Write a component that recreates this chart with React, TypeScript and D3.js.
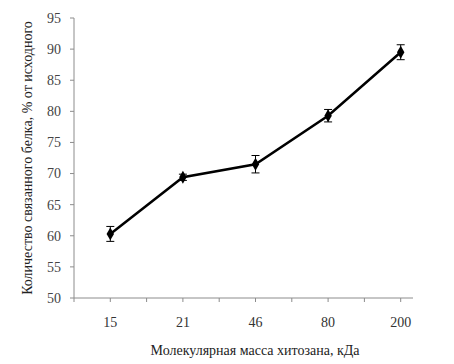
import React from "react";
import * as d3 from "d3";

const categories = ["15", "21", "46", "80", "200"];
const values = [60.3, 69.4, 71.5, 79.3, 89.5];
const errors = [1.2, 0.5, 1.4, 1.0, 1.2];
const yTicks = [50, 55, 60, 65, 70, 75, 80, 85, 90, 95];
const xTitle = "Молекулярная масса хитозана, кДа";
const yTitle = "Количество связанного белка, % от исходного";

export default function App() {
  const W = 454, H = 364;
  const left = 74, right = 437, top = 18, bottom = 298;
  const x = d3.scaleBand<string>().domain(categories).range([left, right]);
  const y = d3.scaleLinear().domain([50, 95]).range([bottom, top]);
  const cx = (c: string) => (x(c) as number) + x.bandwidth() / 2;
  const line = d3.line<number>().x((_, i) => cx(categories[i])).y(d => y(d));
  const fontStyle = { fontFamily: "Liberation Serif, DejaVu Serif, serif" };
  const axisEnd = 413;
  const xTickPos: number[] = [];
  categories.forEach(c => {
    xTickPos.push(x(c) as number);
    xTickPos.push(cx(c));
  });
  const diamond = d3.symbol().type(d3.symbolDiamond).size(48)();
  return (
    <svg width={W} height={H} style={{ position: "absolute", left: 0, top: 0, background: "#fff" }}>
      <rect width={W} height={H} fill="#fff" />
      <line x1={left} x2={left} y1={top} y2={bottom} stroke="#8c8c8c" strokeWidth={1} />
      <line x1={left} x2={axisEnd} y1={bottom} y2={bottom} stroke="#8c8c8c" strokeWidth={1} />
      {yTicks.map(t => (
        <g key={t}>
          <line x1={left - 4} x2={left} y1={y(t)} y2={y(t)} stroke="#8c8c8c" />
          <text x={left - 13} y={y(t)} dy="0.35em" textAnchor="end" style={fontStyle} fontSize={14} fill="#444">{t}</text>
        </g>
      ))}
      {xTickPos.filter(p => p <= axisEnd).map((p, i) => (
        <line key={i} x1={p} x2={p} y1={bottom} y2={bottom + 4} stroke="#8c8c8c" />
      ))}
      {categories.map(c => (
        <text key={c} x={cx(c)} y={322} dy="0.35em" textAnchor="middle" style={fontStyle} fontSize={14} fill="#333">{c}</text>
      ))}
      <text x={255} y={350} dy="0.35em" textAnchor="middle" style={fontStyle} fontSize={14} fill="#222">{xTitle}</text>
      <text transform={`translate(27,158) rotate(-90)`} dy="0.35em" textAnchor="middle" style={fontStyle} fontSize={14} fill="#222">{yTitle}</text>
      <path d={line(values) || ""} fill="none" stroke="#000" strokeWidth={2.5} />
      {values.map((v, i) => {
        const px = cx(categories[i]);
        return (
          <g key={i}>
            <line x1={px} x2={px} y1={y(v - errors[i])} y2={y(v + errors[i])} stroke="#000" strokeWidth={1} />
            <line x1={px - 4} x2={px + 4} y1={y(v - errors[i])} y2={y(v - errors[i])} stroke="#000" strokeWidth={1} />
            <line x1={px - 4} x2={px + 4} y1={y(v + errors[i])} y2={y(v + errors[i])} stroke="#000" strokeWidth={1} />
            <path d={diamond || ""} transform={`translate(${px},${y(v)})`} fill="#000" />
          </g>
        );
      })}
    </svg>
  );
}
